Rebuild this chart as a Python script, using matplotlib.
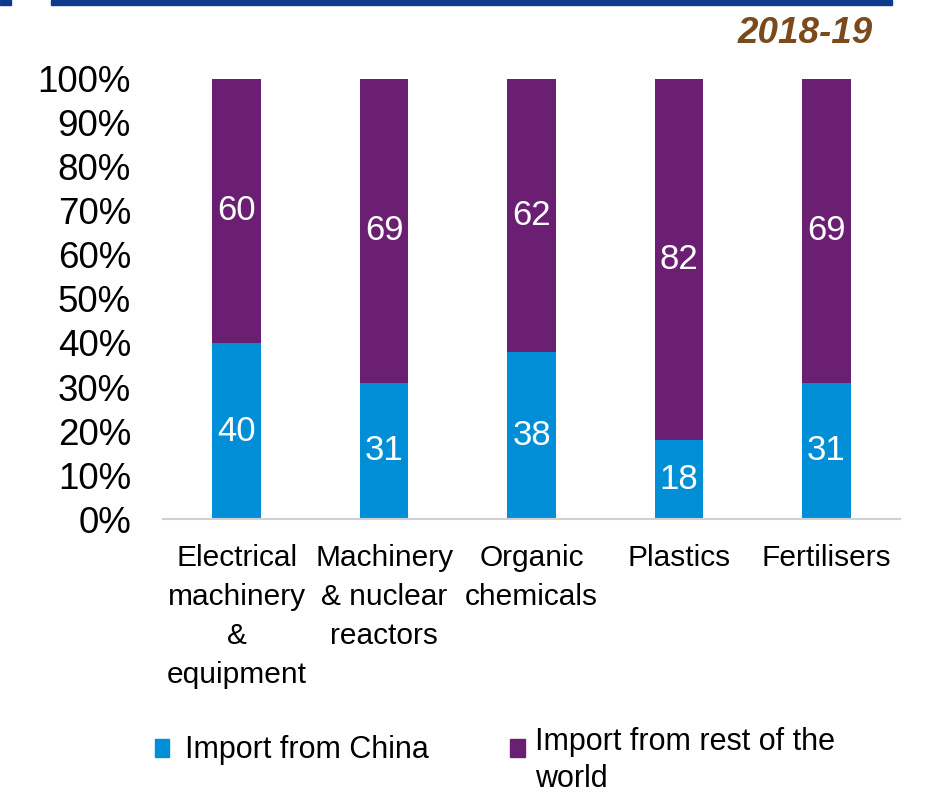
import matplotlib.pyplot as plt
from matplotlib.patches import Rectangle
from matplotlib.ticker import FuncFormatter

plt.rcParams['font.family'] = ['Liberation Sans', 'DejaVu Sans']

categories = ['Electrical\nmachinery\n&\nequipment', 'Machinery\n& nuclear\nreactors',
              'Organic\nchemicals', 'Plastics', 'Fertilisers']
china = [40, 31, 38, 18, 31]
rest_of_world = [60, 69, 62, 82, 69]

blue = '#008fd6'
purple = '#6b1f72'

fig = plt.figure(figsize=(9.31, 7.95), dpi=100)
ax = fig.add_axes([0.175, 0.347, 0.792, 0.554])

x = range(len(categories))
ax.bar(x, china, width=0.33, color=blue)
ax.bar(x, rest_of_world, width=0.33, bottom=china, color=purple)

for i in x:
    ax.text(i, china[i] / 2, str(china[i]), color='white', fontsize=25,
            ha='center', va='center')
    ax.text(i, china[i] + rest_of_world[i] / 2, str(rest_of_world[i]), color='white',
            fontsize=25, ha='center', va='center')

ax.set_xlim(-0.5, len(categories) - 0.5)
ax.set_ylim(0, 100)
ax.set_yticks(range(0, 101, 10))
ax.yaxis.set_major_formatter(FuncFormatter(lambda v, p: f'{int(v)}%'))
ax.set_xticks(list(x))
ax.set_xticklabels(categories, fontsize=21.5, linespacing=1.5)
ax.tick_params(axis='y', labelsize=26.5, length=0, pad=23)
ax.tick_params(axis='x', length=0, pad=18)
for s in ['top', 'right', 'left']:
    ax.spines[s].set_visible(False)
ax.spines['bottom'].set_color('#d0d0d0')
ax.spines['bottom'].set_linewidth(1.5)

# title
fig.text(0.937, 0.958, '2018-19', fontsize=26.5, weight='bold', style='italic',
         color='#7a4a1c', ha='right', va='center')

# top border lines
fig.patches.append(Rectangle((0, 0.994), 0.012, 0.006, transform=fig.transFigure,
                             color='#0d3a8c', figure=fig))
fig.patches.append(Rectangle((0.055, 0.994), 0.903, 0.006, transform=fig.transFigure,
                             color='#0d3a8c', figure=fig))

# legend
fig.patches.append(Rectangle((0.166, 0.048), 0.016, 0.022, transform=fig.transFigure,
                             color=blue, figure=fig))
fig.text(0.199, 0.057, 'Import from China', fontsize=22, va='center', ha='left')
fig.patches.append(Rectangle((0.548, 0.048), 0.016, 0.022, transform=fig.transFigure,
                             color=purple, figure=fig))
fig.text(0.575, 0.086, 'Import from rest of the\nworld', fontsize=22, va='top', ha='left',
         linespacing=1.3)

fig.savefig('out.png', dpi=100, facecolor='white')
